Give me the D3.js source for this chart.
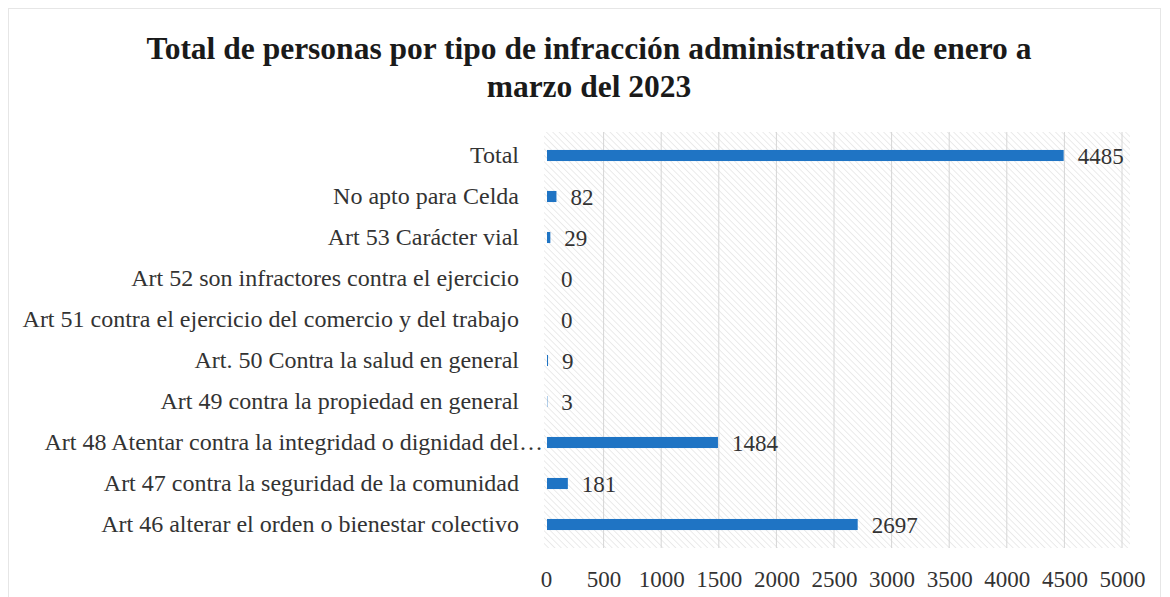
<!DOCTYPE html>
<html>
<head>
<meta charset="utf-8">
<script src="https://cdn.jsdelivr.net/npm/d3@7"></script>
<style>
  body { margin: 0; background: #fff; }
  svg text { font-family: "Liberation Serif", "Times New Roman", serif !important; }
</style>
</head>
<body>
<div id="chart"></div>
<script>
// data
var categories = [
  "Total",
  "No apto para Celda",
  "Art 53 Carácter vial",
  "Art 52 son infractores contra el ejercicio",
  "Art 51 contra el ejercicio del comercio y del trabajo",
  "Art. 50 Contra la salud en general",
  "Art 49 contra la propiedad en general",
  "Art 48 Atentar contra la integridad o dignidad del…",
  "Art 47 contra la seguridad de la comunidad",
  "Art 46 alterar el orden o bienestar colectivo"
];
var values = [4485, 82, 29, 0, 0, 9, 3, 1484, 181, 2697];
var xTicks = [0, 500, 1000, 1500, 2000, 2500, 3000, 3500, 4000, 4500, 5000];
var titleLines = ["Total de personas por tipo de infracción administrativa de enero a", "marzo del 2023"];

var width = 1170, height = 597;
var serif = "'Liberation Serif', 'Times New Roman', serif";
var svg = d3.select("#chart").append("svg")
    .attr("width", width)
    .attr("height", height)
    .attr("font-family", serif);

// hatch pattern for the plot background
var defs = svg.append("defs");
var pat = defs.append("pattern")
    .attr("id", "hatch")
    .attr("patternUnits", "userSpaceOnUse")
    .attr("width", 4.5)
    .attr("height", 4.5)
    .attr("patternTransform", "rotate(-45)");
pat.append("line")
    .attr("x1", 0).attr("y1", 0).attr("x2", 0).attr("y2", 4.5)
    .attr("stroke", "#dedede")
    .attr("stroke-width", 1.2);

// outer frame
svg.append("rect")
    .attr("x", 8.5).attr("y", 8.5)
    .attr("width", 1152).attr("height", 600)
    .attr("fill", "none")
    .attr("stroke", "#e6e6e6");

var plot = {left: 546, right: 1122, top: 135, bottom: 545};

var x = d3.scaleLinear().domain([0, 5000]).range([plot.left, plot.right]);
var y = d3.scaleBand().domain(categories).range([plot.top, plot.bottom]).paddingInner(0.73).paddingOuter(0.365);

svg.append("rect")
    .attr("x", plot.left - 2).attr("y", plot.top - 3)
    .attr("width", plot.right - plot.left + 10).attr("height", plot.bottom - plot.top + 6)
    .attr("fill", "url(#hatch)");

// gridlines
svg.append("g")
    .selectAll("line")
    .data(xTicks.slice(1))
    .enter().append("line")
    .attr("x1", function(d){ return x(d); })
    .attr("x2", function(d){ return x(d); })
    .attr("y1", plot.top - 3)
    .attr("y2", plot.bottom + 3)
    .attr("stroke", "#d6d6d6")
    .attr("stroke-width", 1);

// title
svg.append("g").selectAll("text")
    .data(titleLines)
    .enter().append("text")
    .attr("x", 589)
    .attr("y", function(d, i){ return 59 + i * 38; })
    .attr("text-anchor", "middle")
    .attr("font-size", 31.5)
    .attr("font-weight", "bold")
    .attr("fill", "#1a1a1a")
    .text(function(d){ return d; });

// bars
svg.append("g").selectAll("rect")
    .data(values)
    .enter().append("rect")
    .attr("x", x(0) + 1)
    .attr("y", function(d, i){ return y(categories[i]); })
    .attr("width", function(d){ return Math.max(0, x(d) - x(0)); })
    .attr("height", y.bandwidth())
    .attr("fill", "#1f74c4");

// value labels
svg.append("g").selectAll("text")
    .data(values)
    .enter().append("text")
    .attr("x", function(d){ return x(d) + 15; })
    .attr("y", function(d, i){ return y(categories[i]) + y.bandwidth() / 2; })
    .attr("dy", "0.35em")
    .attr("font-size", 23)
    .attr("fill", "#333")
    .text(function(d){ return d; });

// category axis
var yAxis = svg.append("g")
    .attr("transform", "translate(" + (plot.left - 27) + ",0)")
    .call(d3.axisLeft(y).tickSize(0).tickPadding(0));
yAxis.attr("font-family", serif).attr("font-size", 24);
yAxis.select(".domain").remove();
yAxis.selectAll("text")
    .attr("fill", "#333")
    // the truncated label runs up to the bar, like in the original
    .attr("dx", function(d){ return d.slice(-1) == "…" ? 24 : 0; });

// value axis
var xAxis = svg.append("g")
    .attr("transform", "translate(0," + (plot.bottom + 22) + ")")
    .call(d3.axisBottom(x).tickValues(xTicks).tickFormat(d3.format("d")).tickSize(0).tickPadding(4));
xAxis.attr("font-family", serif).attr("font-size", 23);
xAxis.select(".domain").remove();
xAxis.selectAll("text")
    .attr("fill", "#333");
</script>
</body>
</html>
